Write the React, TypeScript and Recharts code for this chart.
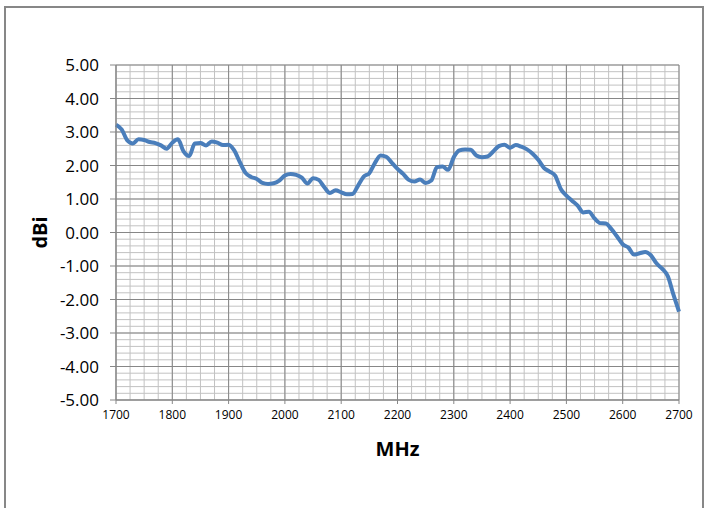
import React from "react";
import {
  LineChart, Line, XAxis, YAxis, CartesianGrid, Label
} from "recharts";

// gain in dBi, sampled every 10 MHz from 1700 to 2700
const gains = [
  3.22, 3.08, 2.75, 2.66, 2.78, 2.76, 2.7, 2.67, 2.6, 2.5,
  2.68, 2.78, 2.42, 2.28, 2.66, 2.67, 2.6, 2.72, 2.68, 2.61,
  2.62, 2.45, 2.1, 1.78, 1.66, 1.6, 1.48, 1.45, 1.47, 1.55,
  1.7, 1.75, 1.72, 1.64, 1.46, 1.62, 1.57, 1.35, 1.18, 1.26,
  1.2, 1.14, 1.15, 1.4, 1.67, 1.77, 2.08, 2.3, 2.26, 2.08,
  1.9, 1.75, 1.57, 1.52, 1.58, 1.48, 1.55, 1.95, 1.97, 1.87,
  2.25, 2.45, 2.48, 2.47, 2.3, 2.25, 2.27, 2.42, 2.58, 2.62,
  2.53, 2.61, 2.56, 2.48, 2.35, 2.17, 1.93, 1.82, 1.7, 1.3,
  1.1, 0.95, 0.8, 0.6, 0.62, 0.42, 0.28, 0.27, 0.1, -0.12,
  -0.35, -0.45, -0.66, -0.62, -0.58, -0.68, -0.92, -1.08, -1.3, -1.85,
  -2.36,
];
const freqs = gains.map((_, i) => 1700 + i * 10);

const xTicks = [1700, 1800, 1900, 2000, 2100, 2200, 2300, 2400, 2500, 2600, 2700];
const yTicks = [-5, -4, -3, -2, -1, 0, 1, 2, 3, 4, 5];
const xMinor = Array.from({ length: 41 }, (_, i) => 1700 + i * 25);
const yMinor = Array.from({ length: 51 }, (_, i) => Math.round((-5 + i * 0.2) * 10) / 10);

const data = freqs.map((f, i) => ({ f, v: gains[i] }));

const major = "#878787";
const minor = "#c2c2c2";
const font = "'Open Sans', sans-serif";

export default function App() {
  return (
    <div style={{ position: "absolute", left: 0, top: 0, width: 708, height: 508, background: "#fff", overflow: "hidden" }}>
      <div style={{ position: "absolute", left: 4, top: 6, width: 696, height: 520, border: `2px solid ${major}` }} />
      <LineChart width={708} height={508} data={data} margin={{ top: 65, right: 29, bottom: 0, left: 0 }}>
        <XAxis xAxisId="minor" type="number" dataKey="f" domain={[1700, 2700]} ticks={xMinor} interval={0} allowDataOverflow hide />
        <YAxis yAxisId="minor" type="number" domain={[-5, 5]} ticks={yMinor} interval={0} allowDataOverflow hide />
        <CartesianGrid xAxisId="minor" yAxisId="minor" stroke={minor} strokeWidth={1} />
        <CartesianGrid stroke={major} strokeWidth={1} />
        <XAxis
          type="number" dataKey="f" domain={[1700, 2700]} ticks={xTicks} interval={0}
          height={108} stroke={major} tickSize={4} tickMargin={6}
          tick={{ fill: "#000", fontSize: 12, fontFamily: font }}
        >
          <Label value="MHz" position="insideBottom" offset={52}
            style={{ fontSize: 20, fontWeight: 700, fontFamily: font, fill: "#000" }} />
        </XAxis>
        <YAxis
          type="number" domain={[-5, 5]} ticks={yTicks} interval={0} width={116}
          stroke={major} tickSize={6} tickMargin={11}
          tickFormatter={(v: number) => v.toFixed(2)}
          tick={{ fill: "#000", fontSize: 17, fontFamily: font }}
        >
          <Label
            content={(props: any) => {
              const vb = props.viewBox;
              const x = vb.x + 47;
              const y = vb.y + vb.height / 2;
              return (
                <text x={x} y={y} transform={`rotate(-90, ${x}, ${y})`} textAnchor="middle"
                  style={{ fontSize: 20, fontWeight: 700, fontFamily: font, fill: "#000" }}>
                  dBi
                </text>
              );
            }}
          />
        </YAxis>
        <Line type="monotone" dataKey="v" stroke="#4a7ebb" strokeWidth={4} dot={false} isAnimationActive={false} />
      </LineChart>
    </div>
  );
}
